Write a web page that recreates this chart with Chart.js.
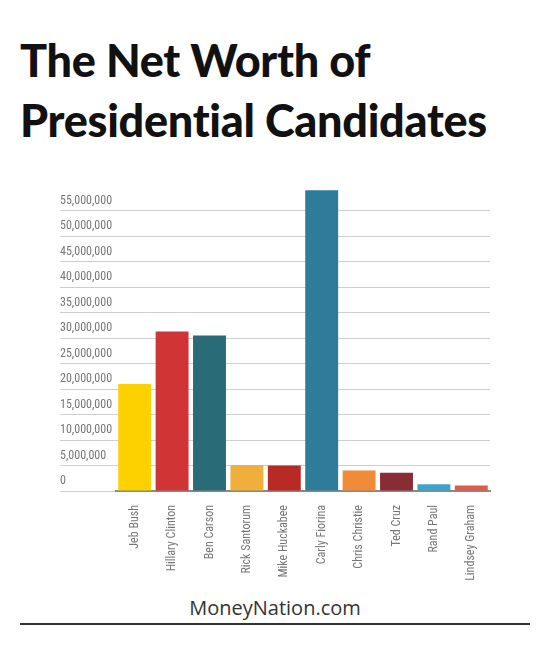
<!DOCTYPE html>
<html><head><meta charset="utf-8">
<script src="https://cdn.jsdelivr.net/npm/chart.js@4.4.0/dist/chart.umd.min.js"></script>
<style>
body{margin:0;background:#fff;width:550px;height:665px;position:relative;overflow:hidden;font-family:"Open Sans",sans-serif}
#title{position:absolute;left:20px;top:30px;font-family:"Lato","Open Sans",sans-serif;font-weight:900;font-size:45px;line-height:60px;color:#111;letter-spacing:-0.3px}
#wrap{position:absolute;left:0;top:175px;width:550px;height:405px}
#foot{position:absolute;left:0;width:550px;top:594px;text-align:center;font-size:20px;color:#333;font-family:"Open Sans",sans-serif}
#rule{position:absolute;left:20px;width:510px;top:623px;height:2px;background:#333}
</style></head><body>
<div id="title">The Net Worth of<br>Presidential Candidates</div>
<div id="wrap"><canvas id="c"></canvas></div>
<div id="foot">MoneyNation.com</div>
<div id="rule"></div>
<script>
const categories=["Jeb Bush","Hillary Clinton","Ben Carson","Rick Santorum","Mike Huckabee","Carly Fiorina","Chris Christie","Ted Cruz","Rand Paul","Lindsey Graham"];
const netWorth=[21000000,31300000,30500000,5100000,5000000,59000000,4000000,3600000,1300000,1100000];
const barColors=["#FDD000","#D03434","#2A6B78","#F0AE3A","#B82B24","#2E7C9A","#F08A37","#892C35","#3FA3C8","#E05A48"];
const yMax=60000000, yStep=5000000;
const font={family:"'Liberation Sans Narrow','Roboto Condensed','Liberation Sans',sans-serif",size:12};
new Chart(document.getElementById('c'),{
type:'bar',
data:{labels:categories,datasets:[{data:netWorth,backgroundColor:barColors,categoryPercentage:1,barPercentage:0.88}]},
options:{responsive:true,maintainAspectRatio:false,animation:false,
layout:{padding:{top:7.6,left:60,right:60,bottom:0}},
plugins:{legend:{display:false},tooltip:{enabled:false}},
scales:{
x:{grid:{display:false},border:{color:'#888',width:2},
 ticks:{color:'#777',font,maxRotation:90,minRotation:90,autoSkip:false,padding:6},
 afterFit(s){s.height=89;}},
y:{min:0,max:yMax,
 grid:{color:c=>c.tick&&c.tick.value>=yMax?'rgba(0,0,0,0)':'#cfcfcf',tickLength:56,drawTicks:true,lineWidth:1},
 border:{display:false},
 ticks:{stepSize:yStep,color:'#777',font,crossAlign:'far',labelOffset:-10,
  callback:v=>v>=yMax?'':v.toLocaleString('en-US')},
 afterFit(s){s.width=56;}}
}}});
</script></body></html>
